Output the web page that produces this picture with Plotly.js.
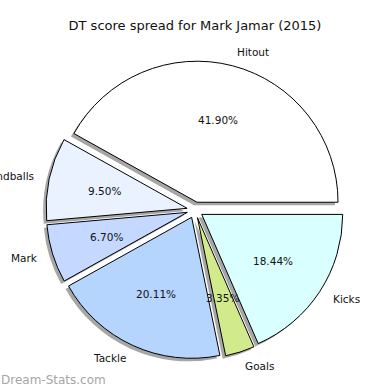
<!DOCTYPE html>
<html>
<head>
<meta charset="utf-8">
<script src="https://cdn.plot.ly/plotly-3.0.1.min.js"></script>
<style>html,body{margin:0;padding:0;background:#fff;}#chart{width:390px;height:390px;}</style>
</head>
<body>
<div id="chart"></div>
<script>
const categories = ['Hitout', 'Handballs', 'Mark', 'Tackle', 'Goals', 'Kicks'];
const shares = [41.90, 9.50, 6.70, 20.11, 3.35, 18.44];
const sliceColors = ['#FFFFFF', '#EAF1FF', '#C5D8FF', '#B5D5FF', '#D0EA8C', '#D9FFFF'];

const W = 390, H = 390;
const CX = 195, CY = 210, R = 141;
const PULL = 0.057;
const SH = 3; // shadow offset px

const half = R * (1 + PULL);
const dom = {x: [(CX - half) / W, (CX + half) / W], y: [(H - CY - half) / H, (H - CY + half) / H]};
const shDom = {x: [dom.x[0] - SH / W, dom.x[1] - SH / W], y: [dom.y[0] - SH / H, dom.y[1] - SH / H]};

const total = shares.reduce((a, b) => a + b, 0);
// first slice starts at 3 o'clock, going counterclockwise
const rot = 90 - shares[0] / total * 360;
let cum = 0;
const mids = shares.map(v => { const m = (cum + v / 2) / total * 2 * Math.PI; cum += v; return m; });

const font = {family: 'DejaVu Sans', size: 10.5, color: '#111'};

const annotations = [];
mids.forEach((m, i) => {
  const c = Math.cos(m), s = Math.sin(m);
  annotations.push({xref: 'x', yref: 'y', x: (PULL + 1.1) * c, y: (PULL + 1.1) * s, text: categories[i],
    xanchor: c > 0 ? 'left' : 'right', yanchor: 'middle', showarrow: false, font: font, borderpad: 0});
  annotations.push({xref: 'x', yref: 'y', x: (PULL + 0.6) * c, y: (PULL + 0.6) * s,
    text: (shares[i] / total * 100).toFixed(2) + '%',
    xanchor: 'center', yanchor: 'middle', showarrow: false, font: font, borderpad: 0});
});
annotations.push({text: 'Dream-Stats.com', xref: 'paper', yref: 'paper', x: 0, y: 10 / H, xanchor: 'left', yanchor: 'middle',
  showarrow: false, font: {family: 'DejaVu Sans', size: 12, color: '#a6a6a6'}, borderpad: 0});

const traces = [
  {type: 'pie', values: shares, labels: categories, sort: false, direction: 'counterclockwise', rotation: rot,
   pull: shares.map(() => PULL), domain: shDom, textinfo: 'none', hoverinfo: 'skip', showlegend: false,
   marker: {colors: shares.map(() => 'rgba(77,77,77,0.5)'), line: {width: 0}}},
  {type: 'pie', values: shares, labels: categories, sort: false, direction: 'counterclockwise', rotation: rot,
   pull: shares.map(() => PULL), domain: dom, textinfo: 'none', showlegend: false,
   marker: {colors: sliceColors, line: {color: '#000', width: 1}}},
  {type: 'scatter', mode: 'markers', x: [0], y: [0], marker: {opacity: 0}, showlegend: false, hoverinfo: 'skip'}
];

const axBase = {showgrid: false, zeroline: false, showticklabels: false, showline: false, ticks: '', fixedrange: true};
const layout = {
  width: W, height: H,
  margin: {l: 0, r: 0, t: 0, b: 0},
  paper_bgcolor: '#fff', plot_bgcolor: 'rgba(0,0,0,0)',
  showlegend: false,
  title: {text: 'DT score spread for Mark Jamar (2015)', font: {family: 'DejaVu Sans', size: 13, color: '#111'},
          x: 0.5, xanchor: 'center', xref: 'paper', y: 1 - 25 / H, yref: 'container', yanchor: 'middle'},
  xaxis: Object.assign({range: [-CX / R, (W - CX) / R], domain: [0, 1]}, axBase),
  yaxis: Object.assign({range: [-(H - CY) / R, CY / R], domain: [0, 1]}, axBase),
  annotations: annotations
};

Plotly.newPlot('chart', traces, layout, {staticPlot: true, displayModeBar: false});
</script>
</body>
</html>
